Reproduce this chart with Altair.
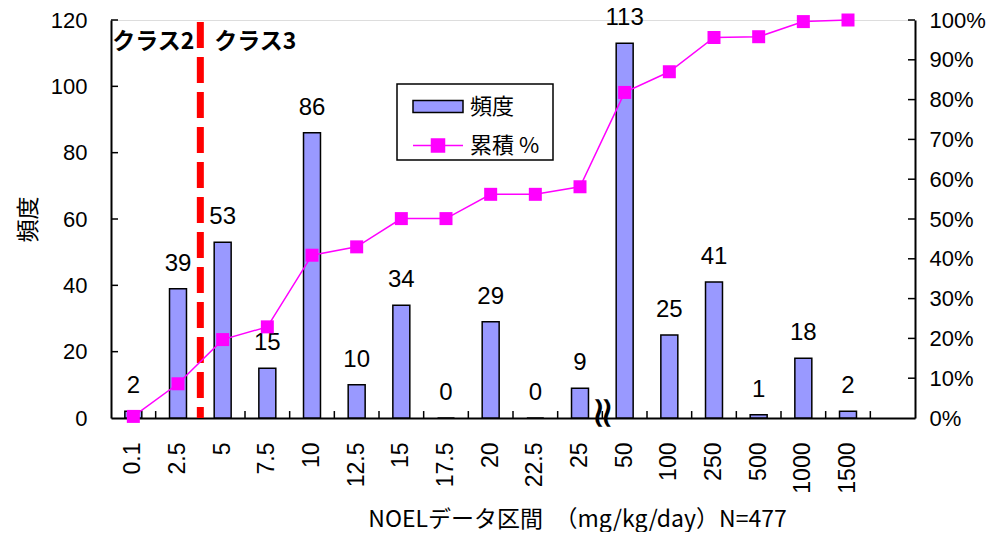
import altair as alt
import pandas as pd

# ---- data ----
cats = ["0.1", "2.5", "5", "7.5", "10", "12.5", "15", "17.5", "20", "22.5",
        "25", "50", "100", "250", "500", "1000", "1500", " "]
counts = [2, 39, 53, 15, 86, 10, 34, 0, 29, 0, 9, 113, 25, 41, 1, 18, 2]
cum_pct = [0.4, 8.6, 19.7, 22.9, 40.9, 43.0, 50.1, 50.1, 56.2, 56.2, 58.1,
           81.8, 87.0, 95.6, 95.8, 99.6, 100.0]
series_names = ["頻度", "累積 %"]
series_colors = ["#9999FF", "#FF00FF"]
left_ticks = [0, 20, 40, 60, 80, 100, 120]
right_ticks = [i / 10 for i in range(11)]

df = pd.DataFrame({
    "cat": cats[:len(counts)],
    "count": counts,
    "cum": [v / 100 for v in cum_pct],
    "s1": series_names[0],
    "s2": series_names[1],
})

W, H = 804, 398
NUM_FONT = "Liberation Sans"
JP_FONT = "Noto Sans CJK JP"

xscale = alt.Scale(domain=cats, paddingInner=0, paddingOuter=0)
yleft = alt.Scale(domain=[0, 120], nice=False)
yright = alt.Scale(domain=[0, 1], nice=False)

legend_common = dict(
    title=None, orient="none", symbolSize=625, labelOffset=31,
    labelFont=JP_FONT, labelFontSize=22, labelColor="black", padding=0,
    symbolStrokeWidth=1.5,
)
legend_bar = alt.Legend(
    legendX=301, legendY=73, symbolType="M-1,-0.48H3V0.48H-1Z",
    symbolStrokeColor="black", **legend_common)
legend_line = alt.Legend(
    legendX=301, legendY=112,
    symbolType="M-1,0H3M0.48,-0.52H1.52V0.52H0.48Z",
    symbolStrokeColor="#FF00FF", symbolFillColor="#FF00FF", **legend_common)

frame = alt.Chart(pd.DataFrame({"k": [0]})).mark_rect(
    fill="white", stroke="black", strokeWidth=1.5
).encode(
    x=alt.value(286), x2=alt.value(442), y=alt.value(64), y2=alt.value(140)
)

bars = alt.Chart(df).mark_bar(
    width=alt.RelativeBandSize(0.38), stroke="black", strokeWidth=1.5
).encode(
    x=alt.X("cat:N", scale=xscale, sort=None, axis=alt.Axis(
        orient="bottom", title="NOELデータ区間　（mg/kg/day）N=477",
        titleFont=JP_FONT, titleFontSize=23, titleFontWeight="normal",
        titleColor="black", titleX=466, titleY=108, titleAlign="center",
        titleBaseline="alphabetic", titleAnchor="start",
        labelAngle=-90, labelFont=NUM_FONT, labelFontSize=23,
        labelColor="black", labelPadding=24, ticks=False, tickSize=0,
        domainColor="black", domainWidth=2, grid=False)),
    y=alt.Y("count:Q", scale=yleft, axis=alt.Axis(
        orient="left", values=left_ticks, title="頻度", titleFont=JP_FONT,
        titleFontSize=23, titleFontWeight="normal", titleColor="black",
        titlePadding=10, labelFont=NUM_FONT, labelFontSize=22,
        labelColor="black", labelPadding=24, ticks=False, tickSize=0,
        domainColor="black", domainWidth=2, grid=False)),
    color=alt.Color("s1:N", scale=alt.Scale(domain=[series_names[0]],
                                            range=[series_colors[0]]),
                    legend=legend_bar),
)

labels = alt.Chart(df).mark_text(
    dy=-25, baseline="middle", font=NUM_FONT, fontSize=24, color="black"
).encode(
    x=alt.X("cat:N", scale=xscale, sort=None, axis=None),
    y=alt.Y("count:Q", scale=yleft, axis=None),
    text=alt.Text("count:Q"),
)

# inward tick marks (ticks point into the plot in the reference)
TICK_COLOR = "black"
xt_df = pd.DataFrame({"cat": cats[1:]})
x_ticks = alt.Chart(xt_df).mark_rule(color=TICK_COLOR, strokeWidth=1.5).encode(
    x=alt.X("cat:N", scale=xscale, bandPosition=0, axis=None),
    y=alt.Y(datum=0, scale=yleft, axis=None),
    y2=alt.Y2(datum=2.1),
)
lt_df = pd.DataFrame({"v": left_ticks[1:]})
l_ticks = alt.Chart(lt_df).mark_rule(color=TICK_COLOR, strokeWidth=1.5).encode(
    x=alt.value(0), x2=alt.value(7),
    y=alt.Y("v:Q", scale=yleft, axis=None),
)
rt_df = pd.DataFrame({"v": right_ticks[1:]})
r_ticks = alt.Chart(rt_df).mark_rule(color=TICK_COLOR, strokeWidth=1.5).encode(
    x=alt.value(W - 7), x2=alt.value(W),
    y=alt.Y("v:Q", scale=yright, axis=None),
)

line = alt.Chart(df).mark_line(color="#FF00FF", strokeWidth=1.5).encode(
    x=alt.X("cat:N", scale=xscale, sort=None, axis=None),
    y=alt.Y("cum:Q", scale=yright, axis=alt.Axis(
        orient="right", values=right_ticks, format=".0%", title=None,
        labelFont=NUM_FONT, labelFontSize=22, labelColor="black",
        labelPadding=14, ticks=False, tickSize=0, domainColor="black",
        domainWidth=2, grid=False)),
)

points = alt.Chart(df).mark_point(
    shape="square", filled=True, size=169, opacity=1
).encode(
    x=alt.X("cat:N", scale=xscale, sort=None, axis=None),
    y=alt.Y("cum:Q", scale=yright, axis=None),
    color=alt.Color("s2:N", scale=alt.Scale(domain=[series_names[1]],
                                            range=[series_colors[1]]),
                    legend=legend_line),
)

divider_df = pd.DataFrame({"cat": ["5"]})
divider = alt.Chart(divider_df).mark_rule(
    color="#FF0000", strokeWidth=7, strokeDash=[26, 9]
).encode(
    x=alt.X("cat:N", scale=xscale, bandPosition=0, axis=None),
    y=alt.Y(datum=119.4, scale=yleft, axis=None),
    y2=alt.Y2(datum=0),
)

class2 = alt.Chart(divider_df).mark_text(
    text="クラス2", align="right", baseline="middle", dx=-6,
    font=JP_FONT, fontSize=23, fontWeight="bold", color="black"
).encode(
    x=alt.X("cat:N", scale=xscale, bandPosition=0, axis=None),
    y=alt.Y(datum=113.4, scale=yleft, axis=None),
)

class3 = alt.Chart(divider_df).mark_text(
    text="クラス3", align="left", baseline="middle", dx=14,
    font=JP_FONT, fontSize=23, fontWeight="bold", color="black"
).encode(
    x=alt.X("cat:N", scale=xscale, bandPosition=0, axis=None),
    y=alt.Y(datum=113.4, scale=yleft, axis=None),
)

break_df = pd.DataFrame({"cat": ["50"]})
break_mark = alt.Chart(break_df).mark_text(
    text="≈", angle=90, baseline="middle", align="center",
    font="DejaVu Sans", fontSize=44, color="black"
).encode(
    x=alt.X("cat:N", scale=xscale, bandPosition=0, axis=None),
    y=alt.Y(datum=1.5, scale=yleft, axis=None),
)

chart = alt.layer(
    bars, labels, x_ticks, l_ticks, r_ticks, divider, class2, class3,
    break_mark, line, points, frame
).resolve_scale(
    x="shared", y="independent", color="independent"
).resolve_axis(
    x="independent", y="independent"
).resolve_legend(
    color="independent"
).properties(
    width=W, height=H,
    autosize=alt.AutoSizeParams(type="none"),
    padding={"left": 103, "top": 12, "right": 74, "bottom": 114},
).configure_view(
    stroke="#808080", strokeWidth=1
).configure(background="white")

chart.save("out.html", embed_options={"renderer": "svg", "actions": False})
